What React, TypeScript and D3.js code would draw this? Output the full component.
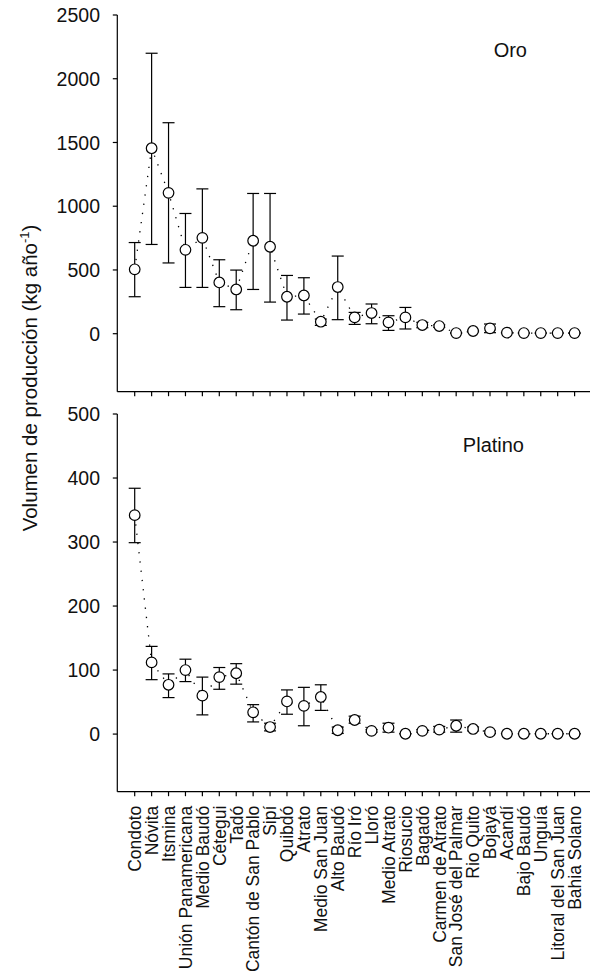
import React from "react";
import * as d3 from "d3";

const categories = [
  "Condoto", "Nóvita", "Itsmina", "Unión Panamericana", "Medio Baudó", "Cétegui", "Tadó",
  "Cantón de San Pablo", "Sipí", "Quibdó", "Atrato", "Medio San Juan", "Alto Baudó", "Río Iró",
  "Lloró", "Medio Atrato", "Riosucio", "Bagadó", "Carmen de Atrato", "San José del Palmar",
  "Rio Quito", "Bojayá", "Acandí", "Bajo Baudó", "Unguía", "Litoral del San Juan", "Bahia Solano",
];

const oroMean = [505, 1455, 1105, 658, 752, 402, 347, 729, 682, 290, 300, 94, 366, 128, 162, 89, 128, 68, 60, 5, 21, 42, 8, 5, 5, 5, 5];
const oroLow = [290, 700, 555, 363, 363, 212, 188, 347, 248, 107, 154, 65, 110, 73, 78, 26, 37, 47, 50, 3, 15, 8, 5, 5, 5, 5, 5];
const oroHigh = [715, 2200, 1655, 943, 1136, 580, 499, 1100, 1100, 457, 439, 115, 609, 167, 233, 141, 206, 89, 70, 8, 27, 76, 11, 5, 5, 5, 5];

const ptMean = [342, 112, 77, 100, 60, 89, 95, 34, 11, 51, 44, 58, 6, 22, 5, 10, 0.5, 5, 7, 13, 8, 3, 0.5, 0.5, 0.5, 0.5, 0.5];
const ptLow = [299, 85, 57, 82, 30, 70, 78, 19, 5, 31, 13, 37, 1, 17, 3, 3, 0.5, 3, 3, 3, 5, 1, 0.5, 0.5, 0.5, 0.5, 0.5];
const ptHigh = [384, 137, 94, 117, 89, 104, 110, 46, 17, 69, 73, 77, 11, 28, 7, 17, 0.5, 7, 12, 22, 11, 5, 0.5, 0.5, 0.5, 0.5, 0.5];

const oroTicks = [0, 500, 1000, 1500, 2000, 2500];
const ptTicks = [0, 100, 200, 300, 400, 500];

const FONT = "'Liberation Sans', Arial, Helvetica, sans-serif";
const AXIS_X = 117.3;
const AXIS_END = 590;

const x = d3.scalePoint<string>().domain(categories).range([134.7, 574.6]);

type PanelProps = {
  mean: number[];
  low: number[];
  high: number[];
  ticks: number[];
  y: d3.ScaleLinear<number, number>;
  yTop: number;
  yBottom: number;
  title: string;
  titleX: number;
  titleY: number;
  showLabels: boolean;
};

function Panel({ mean, low, high, ticks, y, yTop, yBottom, title, titleX, titleY, showLabels }: PanelProps) {
  const line = d3
    .line<number>()
    .x((_, i) => x(categories[i]) as number)
    .y((d) => y(d));
  return (
    <g>
      <line x1={AXIS_X} x2={AXIS_X} y1={yTop} y2={yBottom} stroke="#000" strokeWidth={1.2} />
      {ticks.map((t) => (
        <g key={t} transform={`translate(0,${y(t)})`}>
          <line x1={AXIS_X - 4.5} x2={AXIS_X} stroke="#000" strokeWidth={1.2} />
          <text x={100} dy="0.36em" textAnchor="end" fontSize={19.5} fontFamily={FONT} fill="#111">
            {t}
          </text>
        </g>
      ))}
      <line x1={AXIS_X} x2={AXIS_END} y1={yBottom} y2={yBottom} stroke="#000" strokeWidth={1.2} />
      {categories.map((c) => (
        <line key={c} x1={x(c)} x2={x(c)} y1={yBottom} y2={yBottom + 4.5} stroke="#000" strokeWidth={1.2} />
      ))}
      {showLabels &&
        categories.map((c) => (
          <text
            key={c}
            transform={`translate(${x(c)},${yBottom + 14}) rotate(-90)`}
            textAnchor="end"
            dy="0.36em"
            fontSize={17.5}
            fontFamily={FONT}
            fill="#111"
          >
            {c}
          </text>
        ))}
      <path d={line(mean) || ""} fill="none" stroke="#000" strokeWidth={1.3} strokeDasharray="1.3,8" />
      {mean.map((m, i) => {
        const cx = x(categories[i]) as number;
        const yl = y(low[i]);
        const yh = y(high[i]);
        return (
          <g key={i} stroke="#000" strokeWidth={1.2}>
            <line x1={cx} x2={cx} y1={yl} y2={yh} />
            <line x1={cx - 6} x2={cx + 6} y1={yl} y2={yl} />
            <line x1={cx - 6} x2={cx + 6} y1={yh} y2={yh} />
          </g>
        );
      })}
      {mean.map((m, i) => (
        <circle key={i} cx={x(categories[i]) as number} cy={y(m)} r={5.3} fill="#fff" stroke="#000" strokeWidth={1.2} />
      ))}
      <text x={titleX} y={titleY} textAnchor="end" fontSize={20} fontFamily={FONT} fill="#111">
        {title}
      </text>
    </g>
  );
}

export default function App() {
  const yOro = d3.scaleLinear().domain([-455, 2500]).range([391.7, 15]);
  const yPt = d3.scaleLinear().domain([-90, 500]).range([791.7, 414]);
  return (
    <svg
      width={592}
      height={973}
      style={{ position: "absolute", left: 0, top: 0, background: "#fff" }}
    >
      <rect width={592} height={973} fill="#fff" />
      <Panel mean={oroMean} low={oroLow} high={oroHigh} ticks={oroTicks} y={yOro} yTop={15} yBottom={391.7}
        title="Oro" titleX={527} titleY={57} showLabels={false} />
      <Panel mean={ptMean} low={ptLow} high={ptHigh} ticks={ptTicks} y={yPt} yTop={414} yBottom={791.7}
        title="Platino" titleX={524} titleY={452} showLabels={true} />
      <text transform="translate(37,378) rotate(-90)" textAnchor="middle" fontSize={20.5} fontFamily={FONT} fill="#111">
        Volumen de producción (kg año
        <tspan fontSize={13} dy={-8}>-1</tspan>
        <tspan dy={8}>)</tspan>
      </text>
    </svg>
  );
}
